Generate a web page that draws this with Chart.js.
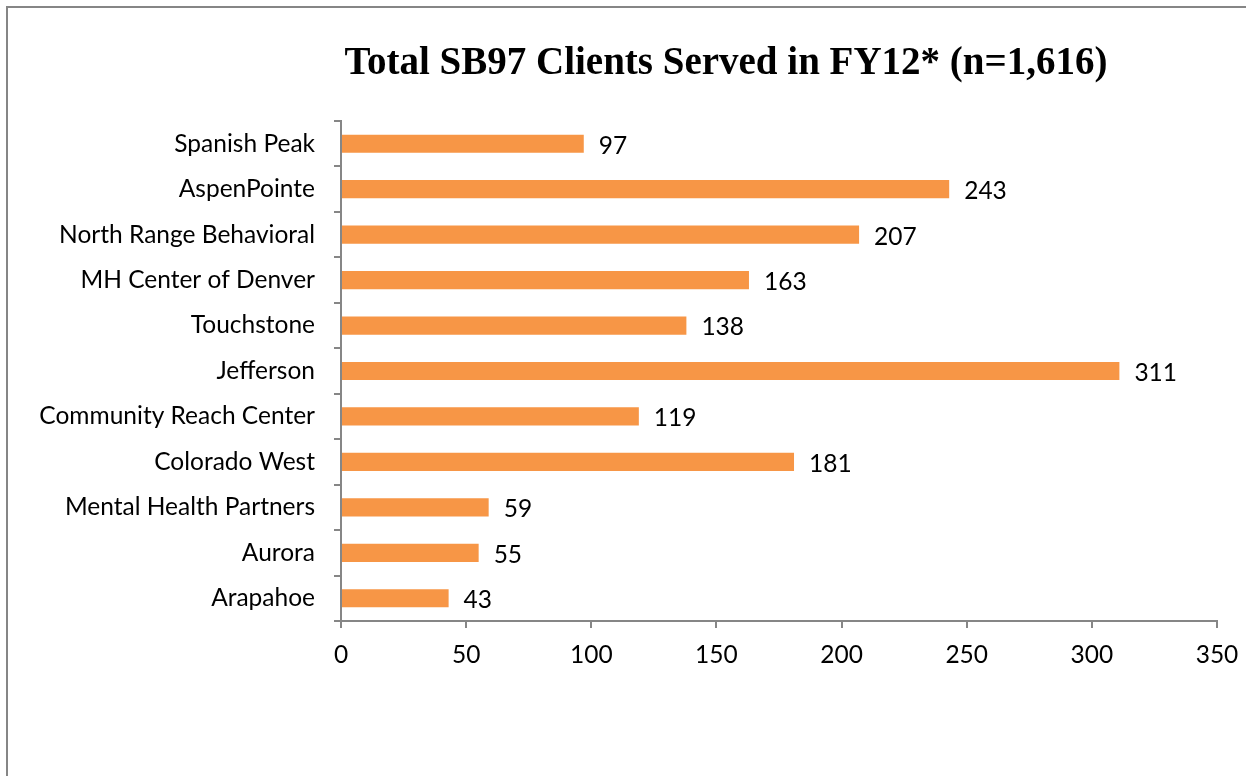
<!DOCTYPE html>
<html>
<head>
<meta charset="utf-8">
<script src="https://cdn.jsdelivr.net/npm/chart.js@4"></script>
<style>
  html, body { margin: 0; padding: 0; background: #fff; }
  #wrap { position: relative; width: 1246px; height: 776px; }
</style>
</head>
<body>
<div id="wrap"><canvas id="c" width="1246" height="776"></canvas></div>
<script>
const titleText = "Total SB97 Clients Served in FY12* (n=1,616)";
const categories = [
  "Spanish Peak", "AspenPointe", "North Range Behavioral", "MH Center of Denver",
  "Touchstone", "Jefferson", "Community Reach Center", "Colorado West",
  "Mental Health Partners", "Aurora", "Arapahoe"
];
const clients = [97, 243, 207, 163, 138, 311, 119, 181, 59, 55, 43];
const xTicks = [0, 50, 100, 150, 200, 250, 300, 350];

const AXIS_COLOR = "#868686";
const LABEL_FONT = "Lato";
const LABEL_SIZE = 24.5;

const framePlugin = {
  id: "frame",
  beforeDraw(chart) {
    const ctx = chart.ctx;
    ctx.save();
    ctx.fillStyle = "#fff";
    ctx.fillRect(0, 0, chart.width, chart.height);
    ctx.strokeStyle = AXIS_COLOR;
    ctx.lineWidth = 2;
    ctx.beginPath();
    ctx.moveTo(7, chart.height);
    ctx.lineTo(7, 7);
    ctx.lineTo(chart.width, 7);
    ctx.stroke();
    ctx.restore();
  }
};

const titlePlugin = {
  id: "customTitle",
  afterDraw(chart) {
    const ctx = chart.ctx;
    ctx.save();
    ctx.font = "bold 39px 'Liberation Serif'";
    ctx.fillStyle = "#000";
    ctx.textAlign = "center";
    ctx.textBaseline = "alphabetic";
    ctx.fillText(titleText, 726, 74);
    ctx.restore();
  }
};

const valueLabels = {
  id: "valueLabels",
  afterDatasetsDraw(chart) {
    const ctx = chart.ctx;
    const meta = chart.getDatasetMeta(0);
    ctx.save();
    ctx.font = LABEL_SIZE + "px " + LABEL_FONT;
    ctx.fillStyle = "#000";
    ctx.textAlign = "left";
    ctx.textBaseline = "middle";
    meta.data.forEach((bar, i) => {
      ctx.fillText(String(clients[i]), bar.x + 15, bar.y + 2);
    });
    ctx.restore();
  }
};

new Chart(document.getElementById("c"), {
  type: "bar",
  data: {
    labels: categories,
    datasets: [{
      data: clients,
      backgroundColor: "#F79646",
      borderWidth: 0,
      categoryPercentage: 1,
      barPercentage: 0.4
    }]
  },
  options: {
    indexAxis: "y",
    responsive: false,
    animation: false,
    devicePixelRatio: 1,
    layout: { padding: { top: 121, right: 29, left: 0, bottom: 0 } },
    plugins: { legend: { display: false }, tooltip: { enabled: false }, title: { display: false } },
    scales: {
      x: {
        min: 0, max: 350,
        afterBuildTicks(scale) { scale.ticks = xTicks.map(v => ({ value: v })); },
        afterFit(scale) { scale.height = 776 - 621; scale.paddingRight = 0; scale.paddingLeft = 0; },
        border: { display: true, color: AXIS_COLOR, width: 2 },
        grid: { display: true, drawOnChartArea: false, drawTicks: true, tickLength: 7, color: AXIS_COLOR, lineWidth: 2 },
        ticks: { color: "#000", font: { family: LABEL_FONT, size: LABEL_SIZE }, padding: 12, maxRotation: 0 }
      },
      y: {
        afterFit(scale) { scale.width = 341; scale.paddingTop = 0; scale.paddingBottom = 0; },
        border: { display: true, color: AXIS_COLOR, width: 2 },
        grid: { display: true, offset: true, drawOnChartArea: false, drawTicks: true, tickLength: 7, color: AXIS_COLOR, lineWidth: 2 },
        ticks: { color: "#000", font: { family: LABEL_FONT, size: LABEL_SIZE }, padding: 19, autoSkip: false }
      }
    }
  },
  plugins: [framePlugin, titlePlugin, valueLabels]
});
</script>
</body>
</html>
